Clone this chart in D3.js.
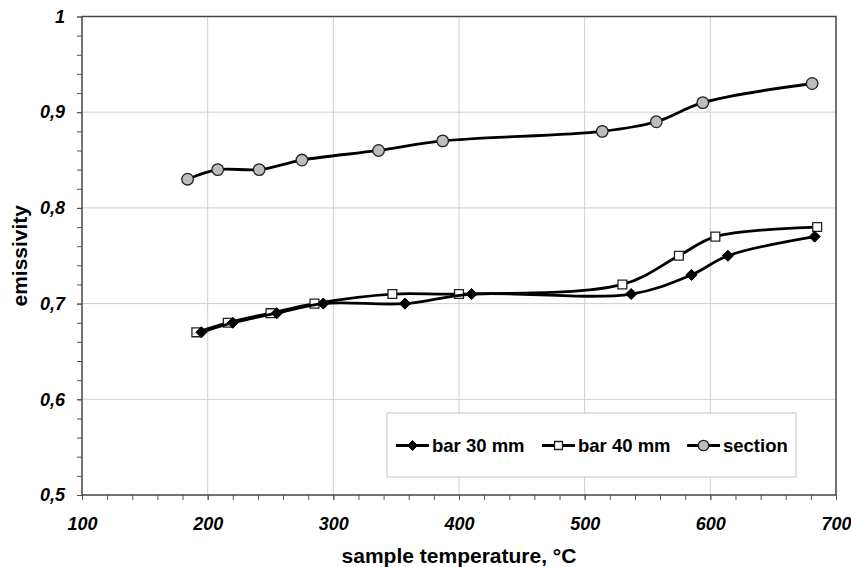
<!DOCTYPE html>
<html>
<head>
<meta charset="utf-8">
<script src="https://cdn.jsdelivr.net/npm/d3@7"></script>
<style>
  body { margin: 0; background: #fff; }
  svg text { font-family: "Liberation Sans", Arial, sans-serif; font-weight: bold; fill: #000; }
</style>
</head>
<body>
<div class="container"></div>
<script>
// data
var tempBar30 = [195, 220, 255, 292, 357, 410, 537, 585, 614, 683];
var emisBar30 = [0.67, 0.68, 0.69, 0.70, 0.70, 0.71, 0.71, 0.73, 0.75, 0.77];
var tempBar40 = [191, 216, 250, 285, 347, 400, 530, 575, 604, 685];
var emisBar40 = [0.67, 0.68, 0.69, 0.70, 0.71, 0.71, 0.72, 0.75, 0.77, 0.78];
var tempSection = [184, 208, 241, 275, 336, 387, 514, 557, 594, 681];
var emisSection = [0.83, 0.84, 0.84, 0.85, 0.86, 0.87, 0.88, 0.89, 0.91, 0.93];

var seriesNames = ["bar 30 mm", "bar 40 mm", "section"];
var xTicks = [100, 200, 300, 400, 500, 600, 700];
var yTicks = [0.5, 0.6, 0.7, 0.8, 0.9, 1];
var xTitle = "sample temperature, °C";
var yTitle = "emissivity";

// frame
var w = 851, h = 567;
var plotL = 82, plotR = 836, plotT = 16.5, plotB = 495;

var svg = d3.select(".container").append("svg").attr("width", w).attr("height", h);

var x = d3.scaleLinear().domain([100, 700]).range([plotL, plotR]);
var y = d3.scaleLinear().domain([0.5, 1]).range([plotB, plotT]);

var locale = d3.formatLocale({decimal: ",", thousands: ".", grouping: [3], currency: ["", ""]});
var yFmt = locale.format(".1~f");

// grid
svg.append("g").selectAll("line").data(xTicks.slice(1, -1)).enter().append("line")
  .attr("x1", d => x(d)).attr("x2", d => x(d)).attr("y1", plotT).attr("y2", plotB)
  .attr("stroke", "#cfcfcf").attr("stroke-width", 1);
svg.append("g").selectAll("line").data(yTicks.slice(1, -1)).enter().append("line")
  .attr("x1", plotL).attr("x2", plotR).attr("y1", d => y(d)).attr("y2", d => y(d))
  .attr("stroke", "#cfcfcf").attr("stroke-width", 1);

// minor ticks
var xMinor = d3.range(100, 701, 20);
var yMinor = d3.range(0, 26).map(i => 0.5 + i * 0.02);
svg.append("g").attr("transform", "translate(0," + plotB + ")")
  .call(d3.axisBottom(x).tickValues(xMinor).tickSize(5).tickFormat(""))
  .call(g => g.select(".domain").remove())
  .selectAll("line").attr("stroke", "#555");
svg.append("g").attr("transform", "translate(" + plotL + ",0)")
  .call(d3.axisLeft(y).tickValues(yMinor).tickSize(5).tickFormat(""))
  .call(g => g.select(".domain").remove())
  .selectAll("line").attr("stroke", "#555");

// axes labels
var xAxis = svg.append("g").attr("transform", "translate(0," + plotB + ")")
  .call(d3.axisBottom(x).tickValues(xTicks).tickSize(5).tickPadding(17));
xAxis.select(".domain").remove();
xAxis.selectAll("line").attr("stroke", "#555");
xAxis.selectAll("text").style("font-size", "18px").style("font-style", "italic").attr("dy", "0.71em");

var yAxis = svg.append("g").attr("transform", "translate(" + plotL + ",0)")
  .call(d3.axisLeft(y).tickValues(yTicks).tickSize(5).tickPadding(12).tickFormat(yFmt));
yAxis.select(".domain").remove();
yAxis.selectAll("line").attr("stroke", "#555");
yAxis.selectAll("text").style("font-size", "18px").style("font-style", "italic");

// plot box
svg.append("rect").attr("x", plotL).attr("y", plotT).attr("width", plotR - plotL).attr("height", plotB - plotT)
  .attr("fill", "none").attr("stroke", "#444").attr("stroke-width", 1.5);

// titles
svg.append("text").attr("x", (plotL + plotR) / 2).attr("y", 563).attr("text-anchor", "middle")
  .style("font-size", "21px").text(xTitle);
svg.append("text").attr("transform", "translate(27," + ((plotT + plotB) / 2) + ") rotate(-90)")
  .attr("text-anchor", "middle").style("font-size", "21px").text(yTitle);

// series
var line = d3.line().x(d => x(d[0])).y(d => y(d[1])).curve(d3.curveCatmullRom.alpha(0.5));

function zipData(t, e) { return t.map((v, i) => [v, e[i]]); }

function drawMarker(g, kind, px, py, scale) {
  if (kind == "circle") {
    g.append("circle").attr("cx", px).attr("cy", py).attr("r", 5.8 * scale)
      .attr("fill", "#bdbdbd").attr("stroke", "#222").attr("stroke-width", 1.3);
  } else if (kind == "square") {
    g.append("path").attr("d", d3.symbol().type(d3.symbolSquare2).size(100 * scale * scale)())
      .attr("transform", "translate(" + px + "," + py + ")")
      .attr("fill", "#fff").attr("stroke", "#222").attr("stroke-width", 1.3);
  } else {
    g.append("path").attr("d", d3.symbol().type(d3.symbolDiamond2).size(78 * scale * scale)())
      .attr("transform", "translate(" + px + "," + py + ")")
      .attr("fill", "#000").attr("stroke", "#000").attr("stroke-width", 1);
  }
}

var series = [
  {name: seriesNames[2], data: zipData(tempSection, emisSection), kind: "circle"},
  {name: seriesNames[1], data: zipData(tempBar40, emisBar40), kind: "square"},
  {name: seriesNames[0], data: zipData(tempBar30, emisBar30), kind: "diamond"}
];

series.forEach(function(s) {
  var g = svg.append("g");
  g.append("path").datum(s.data).attr("d", line)
    .attr("fill", "none").attr("stroke", "#000").attr("stroke-width", 2.8);
  s.data.forEach(function(d) { drawMarker(g, s.kind, x(d[0]), y(d[1]), 1); });
});

// legend
var lg = svg.append("g");
lg.append("rect").attr("x", 387).attr("y", 413).attr("width", 409).attr("height", 64)
  .attr("fill", "#fff").attr("stroke", "#c4c4c4").attr("stroke-width", 1);

var legendItems = [
  {name: seriesNames[0], kind: "diamond", x0: 396},
  {name: seriesNames[1], kind: "square", x0: 542},
  {name: seriesNames[2], kind: "circle", x0: 687}
];
legendItems.forEach(function(it) {
  var ly = 445.5;
  lg.append("line").attr("x1", it.x0).attr("x2", it.x0 + 33).attr("y1", ly).attr("y2", ly)
    .attr("stroke", "#000").attr("stroke-width", 2.8);
  drawMarker(lg, it.kind, it.x0 + 16.5, ly, 0.9);
  lg.append("text").attr("x", it.x0 + 36).attr("y", ly).attr("dy", "0.35em")
    .style("font-size", "18.5px").text(it.name);
});
</script>
</body>
</html>
